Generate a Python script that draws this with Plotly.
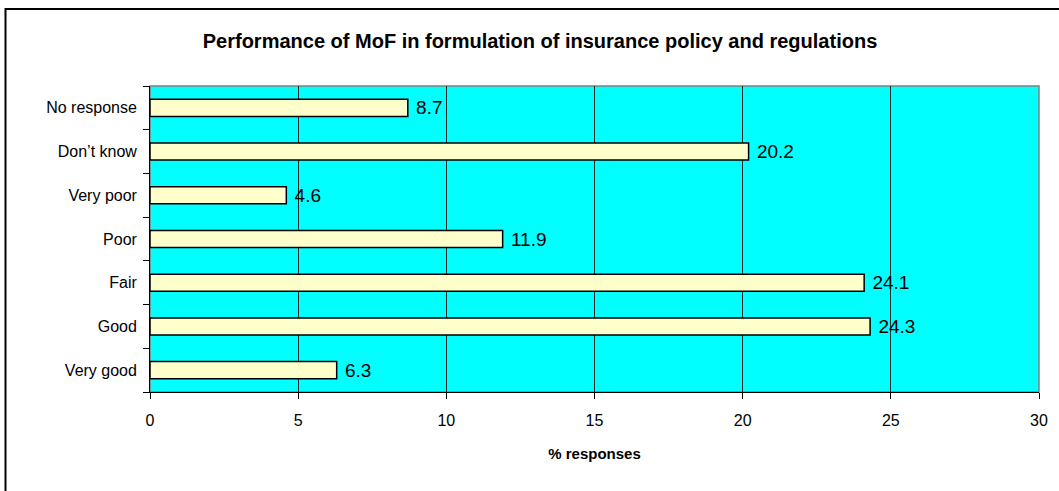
import plotly.graph_objects as go

categories = ["Very good", "Good", "Fair", "Poor", "Very poor", "Don’t know", "No response"]
values = [6.3, 24.3, 24.1, 11.9, 4.6, 20.2, 8.7]
x_ticks = [0, 5, 10, 15, 20, 25, 30]

FONT = "Arial, Liberation Sans, sans-serif"
PLOT_W = 1059 - 150 - 20
PLOT_H = 491 - 86 - 99

fig = go.Figure(go.Bar(
    x=values, y=categories, orientation="h",
    marker=dict(color="#FFFFCC", line=dict(color="black", width=1.5)),
    text=[f"\u00a0{v:.1f}" for v in values], textposition="outside",
    textfont=dict(family=FONT, size=19, color="black"),
    constraintext="none", cliponaxis=False,
))

fig.update_layout(
    width=1059, height=491,
    margin=dict(l=150, r=20, t=86, b=99),
    paper_bgcolor="white", plot_bgcolor="#00FFFF",
    showlegend=False,
    font=dict(family=FONT, color="black"),
    title=dict(text="<b>Performance of MoF in formulation of insurance policy and regulations</b>",
               x=540 / 1059, xanchor="center", y=1 - 41 / 491, yanchor="middle",
               font=dict(family=FONT, size=20, color="black")),
    xaxis=dict(range=[0, 30], tickvals=x_ticks, ticks="outside", ticklen=6,
               tickcolor="black", showgrid=True, gridcolor="#102828", gridwidth=1,
               showline=True, linecolor="black", linewidth=1, zeroline=False,
               tickfont=dict(size=16), ticklabelstandoff=8,
               title=dict(text="<b>% responses</b>", font=dict(size=15), standoff=20)),
    yaxis=dict(ticks="outside", ticklen=6, tickcolor="black", tickson="boundaries",
               showline=True, linecolor="black", linewidth=1, showgrid=False,
               tickfont=dict(size=16), ticksuffix="\u00a0\u00a0"),
    bargap=0.61,
)

# plot area border (top/right gray)
fig.add_shape(type="rect", xref="paper", yref="paper", x0=0, y0=0, x1=1, y1=1,
              line=dict(color="#808080", width=1.5), layer="below")
# outer chart border (clipped on right and bottom)
fig.add_shape(type="rect", xref="paper", yref="paper",
              x0=(5.5 - 150) / PLOT_W, x1=1.2, y0=-1.0, y1=1 + (86 - 9) / PLOT_H,
              line=dict(color="black", width=2))

fig.write_html("out.html", config={"displayModeBar": False},
               post_script="document.body.style.margin='0';")
